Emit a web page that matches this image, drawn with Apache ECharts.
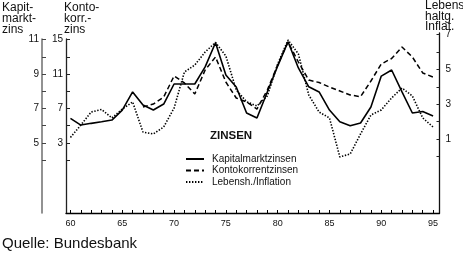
<!DOCTYPE html>
<html>
<head>
<meta charset="utf-8">
<script src="https://cdn.jsdelivr.net/npm/echarts@6/dist/echarts.min.js"></script>
<style>
html,body{margin:0;padding:0;background:#fff;}
#c{width:463px;height:255px;}
</style>
</head>
<body>
<div id="c"></div>
<script>
const years = [60,61,62,63,64,65,66,67,68,69,70,71,72,73,74,75,76,77,78,79,80,81,82,83,84,85,86,87,88,89,90,91,92,93,94,95];
const kapitalmarkt = [6.43,6.04,6.14,6.23,6.33,6.91,7.96,7.20,6.91,7.26,8.42,8.42,8.42,9.41,10.81,8.94,8.25,6.74,6.45,7.96,9.46,10.87,9.35,8.26,7.96,6.91,6.23,6.00,6.16,7.09,8.88,9.23,7.96,6.74,6.83,6.57];
const kontokorrent = [null,null,null,null,null,null,null,7.17,7.52,8.33,10.77,9.96,8.68,11.46,12.97,10.07,8.22,7.75,6.94,9.14,12.04,14.71,12.39,10.30,10.01,9.49,9.03,8.57,8.37,10.19,12.16,12.80,14.13,12.97,11.12,10.65];
const inflation = [1.09,1.80,2.55,2.70,2.21,2.72,3.13,1.40,1.29,1.69,2.78,4.85,5.25,6.00,6.55,5.77,3.82,3.14,2.90,3.47,5.31,6.69,5.89,3.53,2.55,2.21,-0.03,0.14,1.29,2.38,2.67,3.36,3.93,3.47,2.21,1.69];
const xLabels = [60,65,70,75,80,85,90,95];
const kapitalTicks = [4,5,6,7,8,9,10,11];
const kapitalLabels = [5,7,9,11];
const kontoTicks = [1,3,5,7,9,11,13,15];
const kontoLabels = [3,7,11,15];
const inflTicks = [0,1,2,3,4,5,6,7];
const inflLabels = [1,3,5,7];
const seriesNames = ['Kapitalmarktzinsen','Kontokorrentzinsen','Lebensh./Inflation'];

const FONT = '"Liberation Sans", Arial, Helvetica, sans-serif';
const pairs = arr => years.map((y,i) => [y, arr[i]]);

const chart = echarts.init(document.getElementById('c'), null, {renderer:'canvas'});
const xMin = 59.57, xMax = 95.62;
chart.setOption({
  animation:false,
  backgroundColor:'#fff',
  grid:[
    {left:66, right:23.5, top:39, bottom:42},
    {left:66, right:23.5, top:33, bottom:42}
  ],
  xAxis:[
    {
      type:'value', gridIndex:0, min:xMin, max:xMax, splitLine:{show:false},
      axisLine:{show:true, onZero:false, lineStyle:{color:'#000', width:1.3}},
      axisTick:{show:true, inside:true, length:3, customValues:years, lineStyle:{color:'#000', width:1}},
      axisLabel:{show:true, customValues:xLabels, fontSize:9, color:'#111', fontFamily:FONT, margin:6}
    },
    {
      type:'value', gridIndex:1, min:xMin, max:xMax, splitLine:{show:false}, show:false,
      axisLine:{onZero:false}
    }
  ],
  yAxis:[
    {
      type:'value', gridIndex:0, min:0.942, max:11.029, position:'left', offset:24,
      splitLine:{show:false},
      axisLine:{show:true, onZero:false, lineStyle:{color:'#777', width:1.6}},
      axisTick:{show:true, inside:true, length:4, customValues:kapitalTicks, lineStyle:{color:'#444', width:1}},
      axisLabel:{customValues:kapitalLabels, fontSize:10, color:'#111', fontFamily:FONT, margin:3}
    },
    {
      type:'value', gridIndex:0, min:-5.116, max:15.058, position:'left', offset:0,
      splitLine:{show:false},
      axisLine:{show:true, onZero:false, lineStyle:{color:'#222', width:1.3}},
      axisTick:{show:true, inside:true, length:4, customValues:kontoTicks, lineStyle:{color:'#222', width:1}},
      axisLabel:{customValues:kontoLabels, fontSize:10, color:'#111', fontFamily:FONT, margin:3}
    },
    {
      type:'value', gridIndex:1, min:-3.253, max:7.092, position:'right', offset:0,
      splitLine:{show:false},
      axisLine:{show:true, onZero:false, lineStyle:{color:'#111', width:1.3}},
      axisTick:{show:true, inside:true, length:3, customValues:inflTicks, lineStyle:{color:'#222', width:1}},
      axisLabel:{customValues:inflLabels, fontSize:10, color:'#111', fontFamily:FONT, margin:6}
    }
  ],
  legend:{
    orient:'vertical', left:185, top:154, padding:0, itemWidth:18, itemHeight:9, itemGap:1.5,
    itemStyle:{opacity:0},
    textStyle:{fontSize:10, color:'#111', fontFamily:FONT, padding:[0,0,0,3]},
    data:seriesNames
  },
  title:{
    text:'ZINSEN', left:210, top:130, padding:0,
    textStyle:{fontSize:11.5, fontWeight:'bold', color:'#111', fontFamily:FONT}
  },
  series:[
    {
      name:seriesNames[0], type:'line', xAxisIndex:0, yAxisIndex:0, data:pairs(kapitalmarkt),
      symbol:'none', lineStyle:{color:'#000', width:1.6, type:'solid'}, itemStyle:{color:'#000'}
    },
    {
      name:seriesNames[1], type:'line', xAxisIndex:0, yAxisIndex:1, data:pairs(kontokorrent),
      symbol:'none', connectNulls:false, lineStyle:{color:'#000', width:1.5, type:[5,3]}, itemStyle:{color:'#000'}
    },
    {
      name:seriesNames[2], type:'line', xAxisIndex:1, yAxisIndex:2, data:pairs(inflation),
      symbol:'none', lineStyle:{color:'#000', width:1.6, type:[1.4,1.6]}, itemStyle:{color:'#000'}
    }
  ],
  graphic:[
    {type:'text', left:2, top:2, style:{text:'Kapit-\nmarkt-\nzins', font:'12px '+FONT, fill:'#111', lineHeight:10.8}},
    {type:'text', left:64, top:2, style:{text:'Konto-\nkorr.-\nzins', font:'12px '+FONT, fill:'#111', lineHeight:10.8}},
    {type:'text', left:425, top:0, style:{text:'Lebens-\nhaltg.\nInflat.', font:'12px '+FONT, fill:'#111', lineHeight:10.3}},
    {type:'text', left:2, top:236, style:{text:'Quelle: Bundesbank', font:'15px '+FONT, fill:'#111'}}
  ]
});
</script>
</body>
</html>
